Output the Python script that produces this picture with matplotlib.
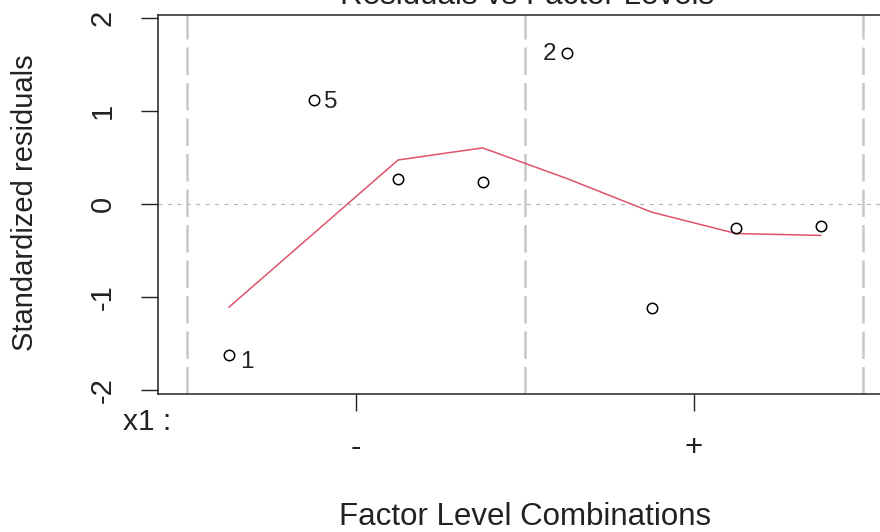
import matplotlib
matplotlib.use("Agg")
import matplotlib.pyplot as plt
import matplotlib.transforms as mtransforms

# factor level combinations (x1 = -, -, -, -, +, +, +, +)
levels = [1, 2, 3, 4, 5, 6, 7, 8]
std_resid = [-1.625, 1.114, 0.266, 0.234, 1.619, -1.12, -0.26, -0.24]
smooth = [-1.11, -0.32, 0.47, 0.60, 0.27, -0.09, -0.32, -0.34]
point_labels = ["1", "5", "", "", "2", "", "", ""]
group_bounds = [0.5, 4.5, 8.5]
group_centers = [2.5, 6.5]
group_names = ["-", "+"]

W, H = 880, 532
plt.rcParams['font.family'] = ['Liberation Sans', 'DejaVu Sans']

fig = plt.figure(figsize=(W / 100, H / 100), dpi=100)
left, right, bottom, top = 158, 891.7, 394, 15
ax = fig.add_axes([left / W, 1 - bottom / H, (right - left) / W, (bottom - top) / H])

for b in group_bounds:
    ax.axvline(b, color='#c8c8c8', lw=1.8, dashes=(11, 3.2), zorder=1)
ax.axhline(0, color='#b4b4b4', lw=0.8, ls=(0, (3.5, 5)), zorder=1)

ax.plot(levels, smooth, color='#DF536B', lw=1.1, zorder=2)
ax.plot(levels, std_resid, 'o', ms=7.5, mfc='none', mec='black', mew=1.1, zorder=3)

# point id labels
offsets = {"1": (11, -7, 'left'), "5": (10, -2, 'left'), "2": (-11, -1, 'right')}
for x, y, lab in zip(levels, std_resid, point_labels):
    if lab:
        dx, dy, ha = offsets[lab]
        ax.annotate(lab, (x, y), xytext=(dx, dy), textcoords='offset pixels',
                    ha=ha, va='center', fontsize=17.5, color='#222222')

ax.set_xlim(0.16, 8.84)
ax.set_ylim(-2.043, 2.027)

ax.set_yticks([-2, -1, 0, 1, 2])
ax.set_yticklabels(['-2', '-1', '0', '1', '2'], rotation=90, va='center', ha='center')
ax.tick_params(axis='y', length=12.2, width=1.0, pad=27.5, labelsize=21, colors='#222222')
ax.set_xticks(group_centers)
ax.set_xticklabels(['', ''])
ax.tick_params(axis='x', length=12.2, width=1.0, colors='#222222')
for s in ax.spines.values():
    s.set_linewidth(1.1)
    s.set_color('#222222')

trans = mtransforms.blended_transform_factory(ax.transData, fig.transFigure)
for c, name in zip(group_centers, group_names):
    ax.text(c, 1 - 448 / H, name, transform=trans, ha='center', va='center',
            fontsize=22.5, color='#222222')

fig.text(123 / W, 1 - 422 / H, "x1 :", ha='left', va='center', fontsize=21.5, color='#222222')
fig.text(525 / W, 1 - 517 / H, "Factor Level Combinations", ha='center', va='center',
         fontsize=22.5, color='#222222')
fig.text(25 / W, 1 - 203 / H, "Standardized residuals", rotation=90, ha='center',
         va='center', fontsize=21, color='#222222')
fig.text(527 / W, 1 - 4 / H, "Residuals vs Factor Levels", ha='center', va='baseline',
         fontsize=22.5, color='#222222')

fig.savefig("out.png", dpi=100)
